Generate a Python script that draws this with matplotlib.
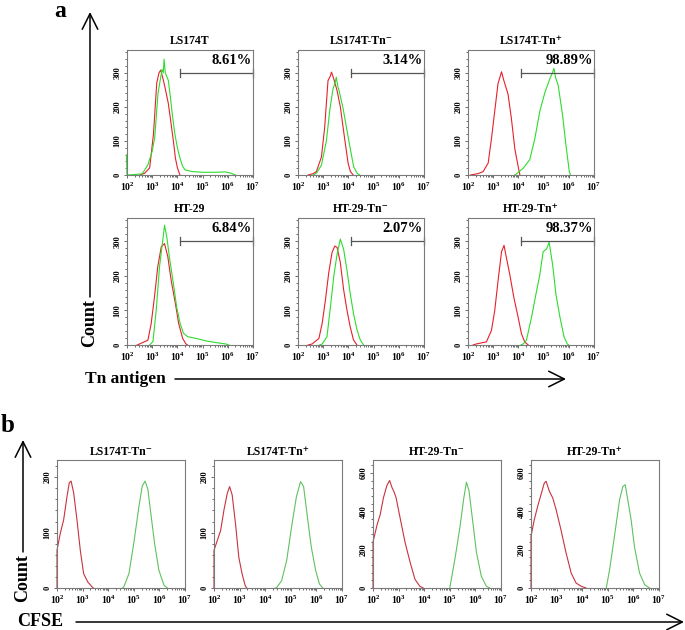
import numpy as np
import matplotlib
matplotlib.use('Agg')
import matplotlib.pyplot as plt
from matplotlib.patches import FancyArrowPatch
from matplotlib.ticker import MultipleLocator, FixedLocator, NullFormatter

plt.rcParams['font.family'] = ['Liberation Serif', 'DejaVu Serif']
plt.rcParams['font.weight'] = 'bold'
plt.rcParams['mathtext.fontset'] = 'custom'
plt.rcParams['mathtext.rm'] = 'Liberation Serif:bold'
plt.rcParams['mathtext.it'] = 'Liberation Serif:bold'
plt.rcParams['mathtext.bf'] = 'Liberation Serif:bold'

# --- panel a: Tn antigen histograms, points are (log10 intensity, count) ---
a_titles = ['LS174T', 'LS174T-Tn⁻', 'LS174T-Tn⁺', 'HT-29', 'HT-29-Tn⁻', 'HT-29-Tn⁺']
a_percent = ['8.61%', '3.14%', '98.89%', '6.84%', '2.07%', '98.37%']

ls174t_red = [(2.5, 0), (2.7, 5), (2.9, 21), (3.05, 120), (3.18, 270), (3.27, 300), (3.34, 308),
              (3.42, 285), (3.5, 260), (3.64, 210), (3.75, 150), (3.84, 100), (3.92, 50), (4.0, 21), (4.1, 0)]
ls174t_green = [(2.0, 0), (2.0, 60), (2.02, 0), (2.6, 3), (2.83, 30), (3.0, 70), (3.1, 110), (3.23, 240),
                (3.39, 310), (3.44, 300), (3.47, 340), (3.52, 300), (3.64, 278), (3.72, 230), (3.81, 170),
                (3.9, 120), (4.0, 80), (4.1, 50), (4.2, 27), (4.3, 15), (4.6, 10), (5.0, 8), (5.5, 8),
                (5.9, 9), (6.1, 6), (6.3, 0)]
ls174t_neg_red = [(2.4, 0), (2.6, 4), (2.73, 10), (2.93, 53), (3.06, 141), (3.19, 277), (3.28, 290),
                  (3.33, 302), (3.42, 282), (3.55, 248), (3.68, 200), (3.86, 102), (3.99, 34), (4.08, 10), (4.19, 0)]
ls174t_neg_green = [(2.6, 0), (2.73, 5), (2.93, 29), (3.13, 102), (3.26, 190), (3.39, 253), (3.47, 270),
                    (3.52, 287), (3.58, 260), (3.63, 248), (3.79, 195), (3.92, 141), (4.06, 83), (4.21, 24),
                    (4.35, 5), (4.45, 0)]
ls174t_pos_red = [(2.1, 0), (2.4, 4), (2.6, 10), (2.8, 35), (2.93, 106), (3.06, 187), (3.19, 268),
                  (3.33, 303), (3.42, 278), (3.59, 237), (3.72, 167), (3.86, 76), (3.99, 25), (4.06, 0)]
ls174t_pos_green = [(3.85, 0), (3.92, 3), (4.19, 20), (4.45, 45), (4.65, 106), (4.85, 187), (5.05, 242),
                    (5.25, 283), (5.35, 300), (5.41, 313), (5.48, 285), (5.58, 263), (5.75, 177),
                    (5.89, 86), (6.02, 10), (6.07, 0)]
ht29_red = [(2.4, 0), (2.5, 3), (2.83, 14), (2.96, 62), (3.09, 139), (3.22, 226), (3.36, 284), (3.49, 293),
            (3.62, 255), (3.75, 188), (3.92, 120), (4.05, 62), (4.21, 19), (4.34, 3), (4.4, 0)]
ht29_green = [(2.9, 0), (3.03, 10), (3.16, 101), (3.29, 226), (3.42, 303), (3.49, 346), (3.58, 312),
              (3.68, 255), (3.84, 178), (3.97, 110), (4.11, 62), (4.24, 34), (4.41, 24), (4.74, 19),
              (5.13, 12), (5.53, 7), (5.92, 3), (6.05, 0)]
ht29_neg_red = [(2.4, 0), (2.56, 3), (2.83, 19), (2.96, 63), (3.09, 131), (3.22, 209), (3.35, 267),
                (3.46, 286), (3.55, 282), (3.68, 238), (3.81, 160), (3.94, 102), (4.07, 53), (4.2, 15), (4.34, 0)]
ht29_neg_green = [(2.85, 0), (2.96, 3), (3.15, 24), (3.29, 112), (3.42, 199), (3.55, 262), (3.68, 306),
                  (3.81, 277), (3.94, 218), (4.07, 150), (4.2, 92), (4.34, 44), (4.47, 15), (4.6, 0)]
ht29_pos_red = [(2.2, 0), (2.33, 3), (2.73, 9), (2.93, 42), (3.06, 99), (3.19, 184), (3.33, 269),
                (3.43, 288), (3.53, 250), (3.66, 203), (3.82, 137), (3.99, 80), (4.12, 33), (4.25, 9), (4.39, 0)]
ht29_pos_green = [(4.1, 0), (4.19, 3), (4.32, 14), (4.52, 80), (4.72, 156), (4.85, 203), (4.98, 269),
                  (5.12, 278), (5.22, 297), (5.36, 231), (5.49, 146), (5.65, 80), (5.81, 24), (5.94, 3), (6.0, 0)]

# --- panel b: CFSE histograms ---
b_titles = ['LS174T-Tn⁻', 'LS174T-Tn⁺', 'HT-29-Tn⁻', 'HT-29-Tn⁺']

cfse_ls_neg_red = [(2.0, 0), (2.0, 68), (2.13, 99), (2.26, 123), (2.39, 165), (2.48, 190), (2.55, 193),
                   (2.65, 172), (2.78, 123), (2.91, 68), (3.04, 26), (3.2, 11), (3.37, 2), (3.42, 0)]
cfse_ls_neg_green = [(4.55, 0), (4.61, 2), (4.81, 26), (5.0, 81), (5.2, 147), (5.33, 184), (5.44, 193),
                     (5.55, 178), (5.68, 129), (5.81, 81), (5.98, 32), (6.18, 5), (6.31, 0)]
cfse_ls_pos_red = [(2.0, 0), (2.0, 68), (2.13, 86), (2.26, 104), (2.39, 141), (2.52, 171), (2.61, 183),
                   (2.71, 168), (2.84, 116), (2.97, 55), (3.1, 25), (3.22, 4), (3.28, 0)]
cfse_ls_pos_green = [(4.4, 0), (4.45, 1), (4.64, 13), (4.84, 50), (5.03, 110), (5.22, 165), (5.38, 192),
                     (5.5, 183), (5.63, 135), (5.8, 74), (5.97, 32), (6.12, 7), (6.25, 0)]
cfse_ht_neg_red = [(2.0, 0), (2.0, 240), (2.16, 330), (2.28, 383), (2.41, 472), (2.54, 534), (2.65, 561),
                   (2.74, 525), (2.83, 499), (2.9, 472), (3.06, 365), (3.25, 240), (3.45, 134),
                   (3.64, 45), (3.83, 9), (3.96, 0)]
cfse_ht_neg_green = [(5.0, 0), (5.2, 151), (5.39, 312), (5.55, 472), (5.65, 552), (5.75, 508),
                     (5.88, 365), (6.04, 187), (6.23, 62), (6.43, 9), (6.56, 0)]
cfse_ht_pos_red = [(2.0, 0), (2.0, 270), (2.13, 357), (2.26, 426), (2.39, 487), (2.52, 548), (2.59, 557),
                   (2.72, 504), (2.85, 470), (2.98, 409), (3.17, 304), (3.37, 183), (3.57, 78),
                   (3.76, 26), (3.96, 9), (4.15, 0)]
cfse_ht_pos_green = [(4.94, 0), (5.07, 96), (5.26, 270), (5.46, 461), (5.59, 530), (5.68, 539),
                     (5.78, 461), (5.91, 357), (6.04, 217), (6.24, 78), (6.44, 17), (6.63, 0)]

a_curves = [(ls174t_red, ls174t_green), (ls174t_neg_red, ls174t_neg_green), (ls174t_pos_red, ls174t_pos_green),
            (ht29_red, ht29_green), (ht29_neg_red, ht29_neg_green), (ht29_pos_red, ht29_pos_green)]
b_curves = [(cfse_ls_neg_red, cfse_ls_neg_green), (cfse_ls_pos_red, cfse_ls_pos_green),
            (cfse_ht_neg_red, cfse_ht_neg_green), (cfse_ht_pos_red, cfse_ht_pos_green)]
b_ymax = [231, 231, 668, 668]
b_major = [100, 100, 200, 200]
decades = [2, 3, 4, 5, 6, 7]
gate_start = 4.1
gate_count = 300

W, H = 685, 630
fig = plt.figure(figsize=(W / 100, H / 100), dpi=100)


def box(l, t, r, b):
    return [l / W, 1 - b / H, (r - l) / W, (b - t) / H]


def fx(x):
    return x / W


def fy(y):
    return 1 - y / H


def draw_hist(ax, red, green, ymax, major, minor, red_c, green_c):
    for pts, c in ((red, red_c), (green, green_c)):
        lx, cnt = zip(*pts)
        ax.plot(10 ** np.array(lx), cnt, color=c, lw=0.8, clip_on=False)
    ax.set_xscale('log')
    ax.set_xlim(1e2, 1e7)
    ax.set_ylim(0, ymax)
    ax.xaxis.set_major_locator(FixedLocator([10.0 ** k for k in decades]))
    ax.set_xticklabels([r'$10^{%d}$' % k for k in decades])
    ax.xaxis.set_minor_locator(FixedLocator([m * 10.0 ** k for k in decades[:-1] for m in range(2, 10)]))
    ax.xaxis.set_minor_formatter(NullFormatter())
    ax.yaxis.set_major_locator(MultipleLocator(major))
    ax.yaxis.set_minor_locator(MultipleLocator(minor))
    ax.tick_params(which='both', direction='out', color='#555555', width=0.6, labelsize=7, pad=1.5)
    ax.tick_params(which='major', length=2.5)
    ax.tick_params(which='minor', length=1.4)
    ax.tick_params(axis='y', labelrotation=90, labelsize=6)
    for lbl in ax.get_yticklabels():
        lbl.set_va('center')
    for s in ax.spines.values():
        s.set_color('#7a7a7a')
        s.set_linewidth(0.8)


# panel a
a_cols = [(127, 253), (298, 424), (468, 594)]
a_rows = [(50, 175), (218, 345)]
for i, (title, pct, (red, green)) in enumerate(zip(a_titles, a_percent, a_curves)):
    (l, r), (t, b) = a_cols[i % 3], a_rows[i // 3]
    ax = fig.add_axes(box(l, t, r, b))
    draw_hist(ax, red, green, 367, 100, 20, '#e8202a', '#2edc2e')
    ax.plot([10 ** gate_start, 1e7], [gate_count, gate_count], color='#555555', lw=0.9, clip_on=False)
    for gx in (10 ** gate_start, 1e7):
        ax.plot([gx, gx], [gate_count - 12, gate_count + 12], color='#555555', lw=0.9, clip_on=False)
    ax.text(0.99, 0.915, pct, transform=ax.transAxes, ha='right', va='center', fontsize=10.5)
    fig.text(fx((l + r) / 2), fy(t - 9), title, ha='center', va='center', fontsize=8.5)

# panel b
b_cols = [(57, 185), (214, 342), (373, 501), (531, 659)]
for i, (title, (red, green)) in enumerate(zip(b_titles, b_curves)):
    l, r = b_cols[i]
    ax = fig.add_axes(box(l, 460, r, 588))
    draw_hist(ax, red, green, b_ymax[i], b_major[i], b_major[i] / 5, '#c8323f', '#5ec25e')
    fig.text(fx((l + r) / 2), fy(452), title, ha='center', va='center', fontsize=8.5)

# axis arrows and labels
arrow = dict(arrowstyle='->,head_length=0.8,head_width=0.4', color='black', lw=1.1,
             shrinkA=0, shrinkB=0, mutation_scale=14, transform=fig.transFigure)
fig.add_artist(FancyArrowPatch((fx(90), fy(297)), (fx(90), fy(12)), **arrow))
fig.add_artist(FancyArrowPatch((fx(175), fy(379)), (fx(566), fy(379)), **arrow))
fig.add_artist(FancyArrowPatch((fx(23), fy(552)), (fx(23), fy(440)), **arrow))
fig.add_artist(FancyArrowPatch((fx(76), fy(622)), (fx(684), fy(622)), **arrow))
fig.text(fx(90), fy(323), 'Count', rotation=90, ha='center', va='center', fontsize=13)
fig.text(fx(85), fy(379), 'Tn antigen', ha='left', va='center', fontsize=12.5)
fig.text(fx(23), fy(578), 'Count', rotation=90, ha='center', va='center', fontsize=13)
fig.text(fx(17), fy(621), 'CFSE', ha='left', va='center', fontsize=13)
fig.text(fx(60), fy(1), 'a', ha='center', va='top', fontsize=17)
fig.text(fx(8), fy(425), 'b', ha='center', va='center', fontsize=18)

fig.savefig('out.png', dpi=100)
